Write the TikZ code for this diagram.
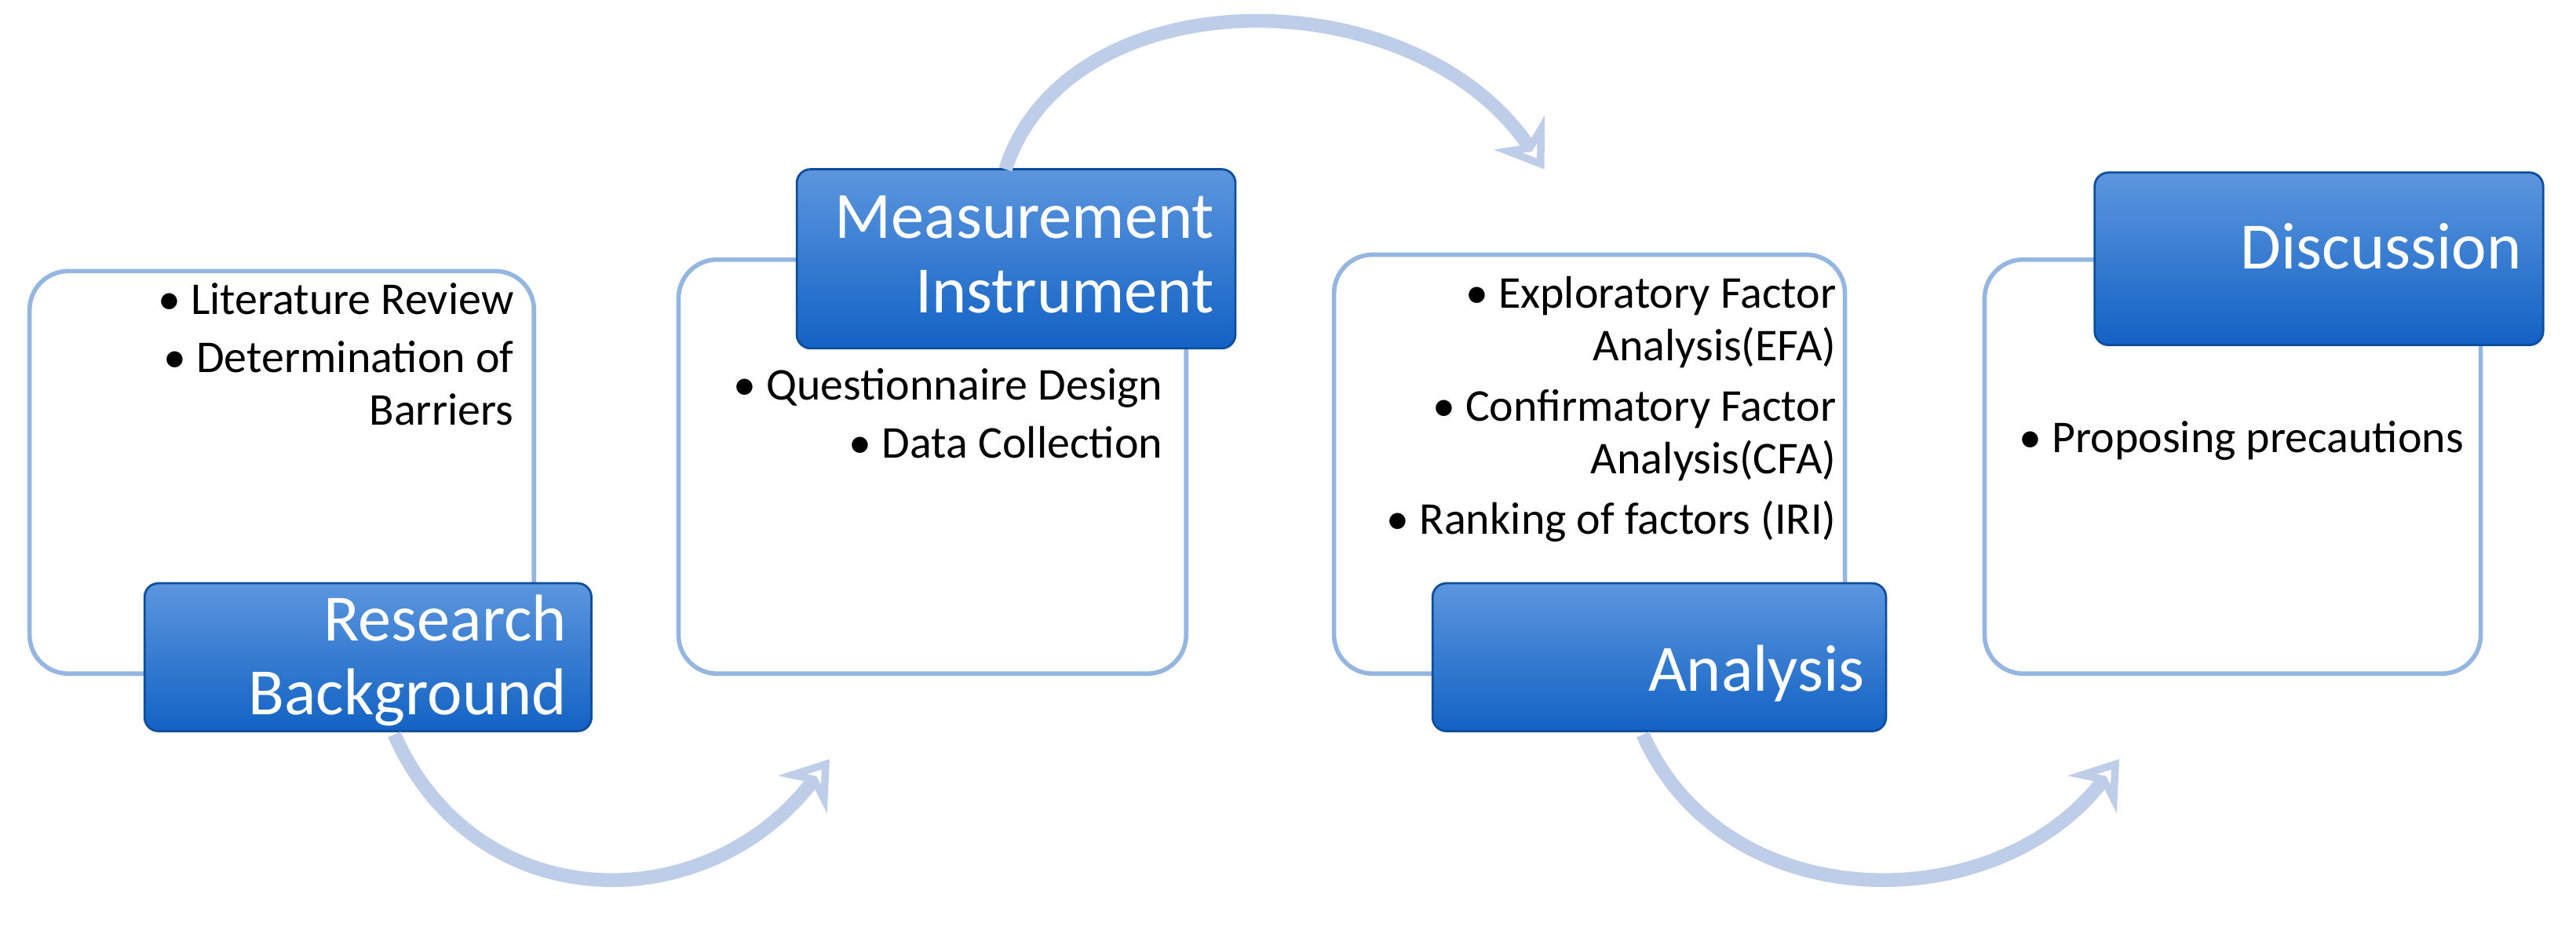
\documentclass[tikz,border=0pt]{standalone}
\usepackage{fontspec}
\setmainfont{Carlito}
\usetikzlibrary{arrows.meta,positioning}
\definecolor{boxline}{RGB}{150,182,226}
\definecolor{labtop}{RGB}{92,150,222}
\definecolor{labbot}{RGB}{18,98,196}
\definecolor{arcline}{RGB}{190,205,232}
\tikzset{
    stepbox/.style={draw=boxline, line width=1.6pt, fill=white, rounded corners=14pt},
    labelbox/.style={draw=labbot!80!black, line width=0.8pt, top color=labtop, bottom color=labbot, rounded corners=5pt},
    labeltext/.style={text=white, align=right, font=\fontsize{24}{27}\selectfont, inner sep=4pt, anchor=east},
    bullets/.style={align=right, font=\fontsize{16.5}{19}\selectfont, anchor=north east, inner sep=0pt},
    flow/.style={arcline, line width=5pt, -{Stealth[length=16pt,width=22pt,open,fill=white]}}
}
\begin{document}
\begin{tikzpicture}[x=0.02093cm, y=-0.02093cm]
    \useasboundingbox (0,0) rectangle (1568,564);

    % white boxes
    \draw[stepbox] (18,165) rectangle (325,410);
    \draw[stepbox] (413,158) rectangle (722,410);
    \draw[stepbox] (812,155) rectangle (1123,410);
    \draw[stepbox] (1208,158) rectangle (1510,410);

    % bullet texts
    \node[bullets] (rbList) at (313,172) {\textbullet\ Literature Review\\[2pt]\textbullet\ Determination of\\Barriers};
    \node[bullets] (miList) at (708,224) {\textbullet\ Questionnaire Design\\[2pt]\textbullet\ Data Collection};
    \node[bullets] (anList) at (1118,168) {\textbullet\ Exploratory Factor\\Analysis(EFA)\\[3pt]\textbullet\ Confirmatory Factor\\Analysis(CFA)\\[3pt]\textbullet\ Ranking of factors (IRI)};
    \node[bullets] (dsList) at (1500,256) {\textbullet\ Proposing precautions};

    % blue labels
    \draw[labelbox] (88,355) rectangle (360,445);
    \node[labeltext] (rb) at (352,402) {Research\\Background};
    \draw[labelbox] (485,103) rectangle (752,212);
    \node[labeltext] (mi) at (746,155) {Measurement\\Instrument};
    \draw[labelbox] (872,355) rectangle (1148,445);
    \node[labeltext] (an) at (1142,410) {Analysis};
    \draw[labelbox] (1275,105) rectangle (1548,210);
    \node[labeltext] (ds) at (1542,150) {Discussion};

    % curved arrows
    \coordinate (rbOut) at (240,447);
    \coordinate (miIn) at (505,462);
    \coordinate (miOut) at (612,103);
    \coordinate (anIn) at (940,103);
    \coordinate (anOut) at (1000,447);
    \coordinate (dsIn) at (1290,462);
    \draw[flow] (rbOut) .. controls (290,560) and (430,560) .. (miIn);
    \draw[flow] (miOut) .. controls (650,-15) and (860,-15) .. (anIn);
    \draw[flow] (anOut) .. controls (1050,560) and (1215,560) .. (dsIn);
\end{tikzpicture}
\end{document}
